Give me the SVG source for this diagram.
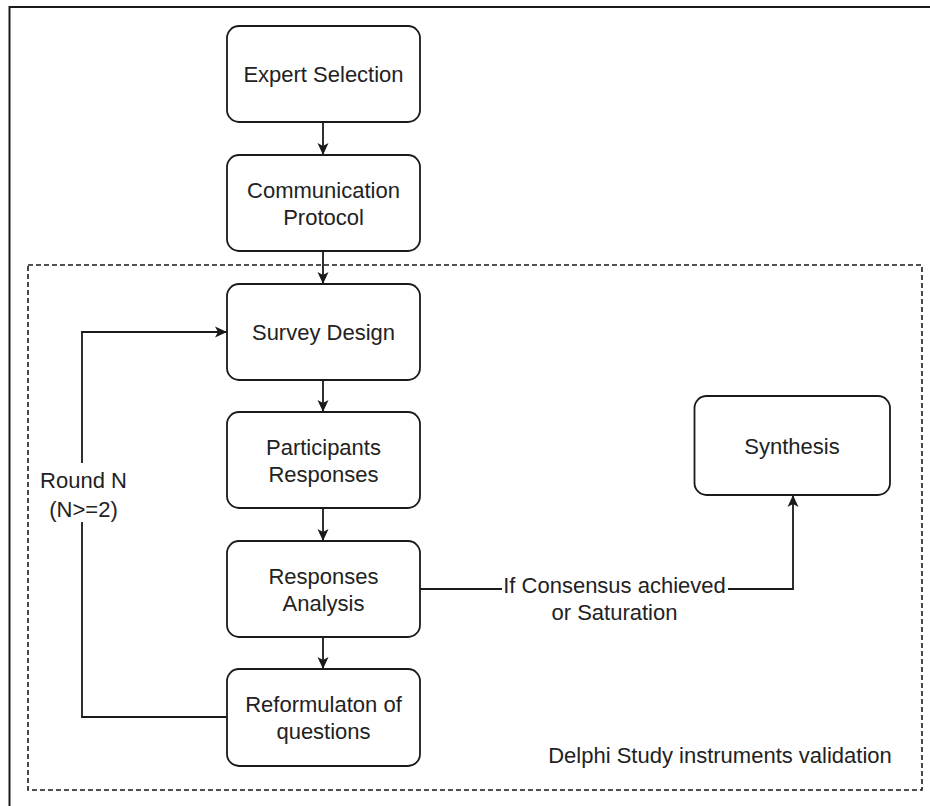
<svg xmlns="http://www.w3.org/2000/svg" width="930" height="806" viewBox="0 0 930 806">
<style>
.box{fill:#fff;stroke:#1a1a1a;stroke-width:1.8}
.t{font-family:"Liberation Sans",Arial,sans-serif;font-size:22px;fill:#222;text-anchor:middle}
.c{fill:none;stroke:#1a1a1a;stroke-width:1.8}
</style>
<defs>
<marker id="arr" markerUnits="userSpaceOnUse" markerWidth="13" markerHeight="12" refX="12" refY="6" orient="auto" viewBox="0 0 13 12">
<path d="M0,0.5 L12,6 L0,11.5 L3,6 z" fill="#1a1a1a"/>
</marker>
</defs>
<rect width="930" height="806" fill="#fff"/>
<path d="M9.5,806 V7 H930" fill="none" stroke="#1a1a1a" stroke-width="2"/>
<g id="container">
<rect x="28" y="265" width="894" height="525" fill="none" stroke="#1a1a1a" stroke-width="1.6" stroke-dasharray="5,3"/>
<text class="t" x="720" y="763">Delphi Study instruments validation</text>
</g>
<g id="connectors">
<line class="c" x1="323" y1="122" x2="323" y2="155" marker-end="url(#arr)"/>
<line class="c" x1="323" y1="251" x2="323" y2="284" marker-end="url(#arr)"/>
<line class="c" x1="323" y1="380" x2="323" y2="412" marker-end="url(#arr)"/>
<line class="c" x1="323" y1="508" x2="323" y2="541" marker-end="url(#arr)"/>
<line class="c" x1="323" y1="637" x2="323" y2="669" marker-end="url(#arr)"/>
<path class="c" d="M227,717 H82 V332 H227" marker-end="url(#arr)"/>
<rect x="36" y="463" width="94" height="59" fill="#fff"/>
<text class="t" x="83.5" y="488">Round N</text>
<text class="t" x="83.5" y="517">(N&gt;=2)</text>
<path class="c" d="M420,589 H793 V495" marker-end="url(#arr)"/>
<rect x="502" y="574" width="226" height="52" fill="#fff"/>
<text class="t" x="614.5" y="593">If Consensus achieved</text>
<text class="t" x="614.5" y="620">or Saturation</text>
</g>
<g id="expert-selection">
<rect class="box" x="227" y="26" width="193" height="96" rx="12"/>
<text class="t" x="323.5" y="82">Expert Selection</text>
</g>
<g id="communication-protocol">
<rect class="box" x="227" y="155" width="193" height="96" rx="12"/>
<text class="t" x="323.5" y="198">Communication</text>
<text class="t" x="323.5" y="225">Protocol</text>
</g>
<g id="survey-design">
<rect class="box" x="227" y="284" width="193" height="96" rx="12"/>
<text class="t" x="323.5" y="340">Survey Design</text>
</g>
<g id="participants-responses">
<rect class="box" x="227" y="412" width="193" height="96" rx="12"/>
<text class="t" x="323.5" y="455">Participants</text>
<text class="t" x="323.5" y="482">Responses</text>
</g>
<g id="responses-analysis">
<rect class="box" x="227" y="541" width="193" height="96" rx="12"/>
<text class="t" x="323.5" y="584">Responses</text>
<text class="t" x="323.5" y="611">Analysis</text>
</g>
<g id="reformulation">
<rect class="box" x="227" y="669" width="193" height="97" rx="12"/>
<text class="t" x="323.5" y="712">Reformulaton of</text>
<text class="t" x="323.5" y="739">questions</text>
</g>
<g id="synthesis">
<rect class="box" x="694.5" y="396" width="195.5" height="99" rx="12"/>
<text class="t" x="792" y="453.5">Synthesis</text>
</g>
</svg>
